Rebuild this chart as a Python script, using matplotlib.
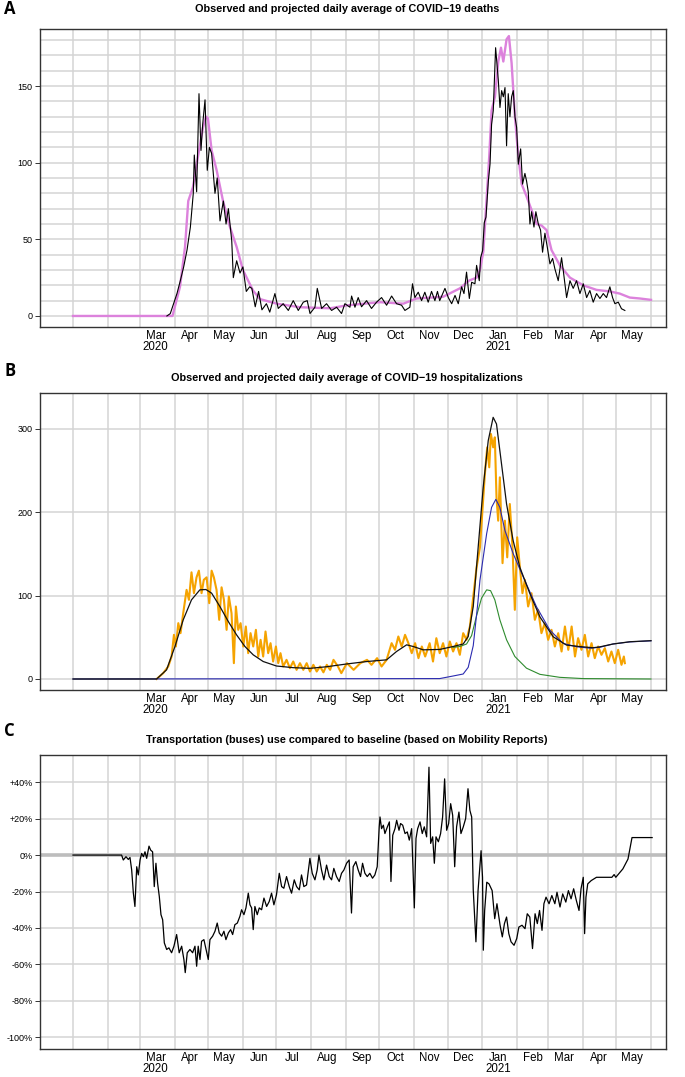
import matplotlib
matplotlib.use("Agg")
import matplotlib.pyplot as plt
import matplotlib.dates as mdates
import numpy as np

# ---- data (days counted from 2020-01-01) ----
deaths_obs_day = [84, 87, 90, 93, 96, 99, 102, 105, 107.6, 108.5, 110.6, 112.7, 114.5, 116, 118.1, 120.1,
                  122, 124, 127, 129, 131.5, 134.5, 136.9, 139, 142, 143.4, 146.4, 149.4, 152, 155, 158, 160,
                  163, 166, 169, 173, 176, 180.6, 183.6, 188, 192.6, 197, 201.5, 206, 209.5, 212, 216.4, 218.5,
                  222.4, 226.8, 231.3, 235.8, 240.2, 243.2, 247.7, 249.2, 252.2, 255.1, 258.1, 262.6, 267, 271.5,
                  276, 280.5, 285, 289.4, 293.9, 296.9, 301.3, 303.7, 305.8, 308.8, 311.8, 314.7, 317.7, 320.7,
                  323.7, 326, 328, 332.7, 335.7, 338.7, 341.7, 344.6, 347.6, 349.7, 352, 354.5, 356.6, 359.5,
                  361, 363.4, 364.6, 366.4, 367.9, 369.4, 371.5, 373, 374.4, 375.9, 378, 380.4, 381.9, 383.4,
                  384.9, 386.4, 387.8, 389.3, 390.8, 392.3, 393.8, 395.3, 396.8, 398.3, 400.4, 402.1, 404.2,
                  405.7, 407.2, 408.7, 410.2, 412.3, 414, 416.2, 418.2, 420, 422.1, 424.2, 426.6, 429, 431, 434,
                  437, 438.5, 441.5, 444.5, 447.4, 450.4, 453.4, 456.4, 459.4, 462.3, 465.3, 468.3, 471.3, 474.3,
                  477.2, 480.2, 482.6, 484.7, 487.7, 490.6, 493.6]
deaths_obs_val = [0, 1.5, 8, 14.6, 23, 32, 43, 58, 80, 105, 81, 145, 108, 125, 141, 95,
                  110, 106, 80, 90, 62, 75, 60, 70, 49, 25, 36, 28, 32, 16, 19, 18,
                  6, 16, 4, 8, 2.5, 14.6, 4.9, 8, 3.6, 10, 3.6, 9, 10, 1.6, 5.7, 18,
                  4.9, 8, 3.6, 5.7, 1.6, 8, 5.7, 13, 5.7, 12, 6, 10, 4.9, 9,
                  12, 7, 13, 8, 7, 3.6, 5.7, 21, 12, 15.5, 10, 15.5, 9, 16,
                  10, 16, 10, 18, 12, 8, 13.4, 8, 19, 14.6, 28.6, 11.4, 22, 21,
                  33, 23, 38, 42.7, 61, 64.5, 88, 99, 125, 134, 175, 154, 136, 147,
                  143, 149, 111, 145, 130, 143, 147, 130, 123, 99, 109, 86, 93,
                  88, 81, 60, 68, 58, 68, 60, 56, 41.6, 54, 45, 34, 37.5, 30.8, 23,
                  38, 29.7, 12, 23, 18, 23, 14.6, 21, 12, 16.6, 9, 14.6, 11.4, 14.6,
                  12, 19, 12, 8, 9, 4.7, 3.6]

deaths_proj_day = [0, 89, 95.7, 100.2, 103.1, 107.3, 111.8, 116.3, 119, 120.7, 124, 128.5, 134.2, 140.4,
                   146.4, 152, 161, 167.3, 182.2, 203, 230, 244.8, 274.5, 295.4, 307.3, 331, 346, 354, 361,
                   364, 367, 370, 372.3, 374.4, 377.4, 380.4, 382.8, 384.9, 387.8, 389.9, 392.3, 395.3, 398.3,
                   401.3, 405.7, 410.2, 414.7, 419.1, 423.6, 428, 435.5, 444.5, 456.4, 468.3, 480.2, 489, 498,
                   507, 517]
deaths_proj_val = [0, 0, 19, 45, 75, 84, 104, 123, 130, 129, 108, 95, 75, 58,
                   45, 30, 16.6, 11, 8, 5.7, 5, 6.9, 9, 8, 11.4, 12.5, 18, 23, 25,
                   30, 42, 77, 104, 134, 143, 166, 175, 166, 180.5, 182.6, 165, 130, 104,
                   86, 78, 69, 60, 59, 56, 43, 33, 25, 20, 17, 16, 14.6, 12,
                   11.4, 10.5]

hosp_obs_day = [74.8, 80.7, 85.2, 88.2, 90.3, 92, 94.2, 96.2, 98.6, 101.6, 103.7, 106, 108.2, 110.5, 112.6,
                115, 117, 119.5, 121.9, 124, 126, 128.4, 130.8, 132.9, 135, 137.4, 139.4, 141.8, 143.9,
                145.7, 147.8, 149.9, 152.3, 154.6, 156.7, 158.8, 161.2, 163.6, 165.7, 167.8, 170.1, 172.2,
                174.6, 176.7, 179, 181.5, 183.6, 185.6, 188, 191, 194, 197, 200, 203, 206, 209, 212, 215,
                218, 221, 224, 227, 230, 233, 237, 240, 245, 251, 257, 263, 267, 272, 276, 280.5, 285, 288,
                291, 294, 297, 300, 303, 306, 309, 312, 315, 319, 322, 325, 328, 331, 334, 337, 340, 343,
                346, 349, 352, 355, 358, 361, 364, 366, 368.4, 370.5, 372.3, 373.8, 375.8, 377.3, 378.8,
                380.3, 381.8, 384.2, 386.3, 388.4, 390.7, 393.1, 395.2, 397.3, 399.7, 402, 404.2, 407.1,
                410.1, 413.1, 416, 419, 422, 425, 428, 431, 434, 437, 440, 443, 446, 449, 451.8, 454.8,
                457.8, 460.8, 463.8, 466.7, 469.7, 472.7, 475.7, 478.7, 481.6, 484.6, 487.6, 490.6, 492.7,
                493.6]
hosp_obs_val = [0, 7, 15, 27, 53, 39, 67, 55, 79, 107, 95, 128, 103, 122, 130,
                103, 119, 122, 91, 130, 122, 107, 71, 110, 95, 59, 99, 79, 19,
                87, 59, 67, 39, 63, 31, 55, 39, 59, 27, 47, 27, 57,
                31, 43, 21, 39, 19, 31, 15, 23, 13, 21, 11, 19, 11, 19, 9, 17,
                9, 15, 8, 17, 11, 23, 15, 7, 19, 11, 19, 23, 17, 25, 15, 23, 43, 35,
                51, 39, 53, 43, 31, 43, 25, 39, 27, 43, 21, 49, 31, 43, 27, 45, 33, 43,
                29, 55, 47, 63, 99, 134, 158, 198, 246, 278, 254, 294, 278, 290, 218,
                190, 242, 139, 190, 146, 210, 158, 83, 170, 134, 103, 119, 87,
                103, 71, 83, 55, 67, 47, 59, 39, 55, 33, 63, 35, 63, 27, 49, 35,
                53, 27, 43, 25, 39, 29, 37, 21, 33, 19, 35, 17, 27,
                19]

hosp_total_day = [0, 74.8, 83.7, 91.2, 98.6, 106, 113.5, 118.9, 124, 131.4, 138.9, 146.3, 153.8, 161.2,
                  170.1, 182, 197, 211.9, 226.8, 244.6, 263, 280.5, 289.4, 298.4, 304.3, 313.3, 328.2, 340,
                  349, 353.5, 358, 362.4, 366.9, 371.4, 375.8, 378.8, 383.3, 387.8, 393.7, 399.7, 408.6,
                  417.6, 429.5, 441.4, 453, 465, 471, 483, 498, 517]
hosp_total_val = [0, 0, 11, 39, 71, 95, 107, 107.4, 103, 87, 69, 53, 39, 29,
                  21, 15.6, 13.6, 12.8, 14.7, 18, 21, 23, 33, 41, 39, 35, 35.5, 39,
                  42, 51, 87, 158, 230, 286, 314, 306, 258, 210, 166, 134, 102.6,
                  74.6, 50.7, 40.7, 39, 37.5, 38.5, 42, 44.7, 46]

hosp_variant_day = [0, 328, 340, 349, 353.5, 358, 362, 364, 370, 374.4, 378.2, 381.8, 386.3, 393.7, 402.7,
                    414.6, 426.5, 438.4, 450.3, 462.3, 471, 483, 498, 517]
hosp_variant_val = [0, 0.5, 3.6, 6, 14, 40, 90, 118.6, 174.5, 206, 215.6, 206, 178.4, 150.5, 122.5,
                    86.6, 58.7, 42.7, 38.7, 37, 38, 42, 44.5, 45.8]

hosp_wild_day = [340, 346, 352, 356.5, 361, 365.4, 370, 373.5, 377.3, 381.8, 387.8, 395.2, 405.6, 417.6,
                 435.4, 456.3, 517]
hosp_wild_val = [38, 39, 42, 52, 76, 97, 107, 106, 95, 71, 47, 27, 13, 5.6, 2, 0.5, 0]

bus_day = [0, 43.5, 45, 47.4, 49.5, 51, 52.5, 54, 55.4, 57, 58.4, 60, 61.4, 63, 64.4, 65.9, 68, 69.5, 71.2,
           72.7, 74.2, 75.7, 77.2, 78.7, 80.2, 81.7, 83.8, 85.8, 88.2, 90.3, 92.7, 95, 97.2, 99.2, 100.4,
           102.2, 104.6, 107, 109.1, 110.6, 112, 113.6, 115, 117.1, 119, 121, 122.5, 124.9, 127, 129, 130.8,
           133, 135, 136.8, 139, 141, 142.8, 144.8, 147, 149.3, 150.8, 152.9, 154.7, 156.8, 158.3, 159.8,
           161.2, 162.7, 164.8, 166.6, 168.7, 170.8, 173.2, 175.5, 177.6, 179.7, 182, 184.5, 186.6, 188.6,
           191, 193.4, 195.5, 197.9, 200, 202.4, 204.4, 206.5, 208.9, 211.9, 214, 216.4, 218.4, 220, 222.3,
           224.4, 226.8, 229.2, 231.3, 233.3, 235.7, 238.1, 240.2, 242.3, 244.7, 247, 249.1, 250.6, 253,
           255.1, 257.2, 259, 261.1, 263.2, 265.5, 267.9, 270, 272.1, 273, 273.9, 274.6, 276, 277.6, 279,
           281.2, 283, 284.4, 286, 288, 289.5, 291.6, 293, 294.9, 297, 299, 300.8, 302.9, 305.3, 306.8,
           308.3, 310.4, 312.4, 314.2, 316.3, 318.4, 319.9, 321.7, 323.2, 324.7, 326.8, 328.8, 330.6,
           332.4, 334.2, 336, 337.8, 339.6, 341.4, 343.1, 345.2, 347, 349.1, 351.2, 353.3, 355, 356.6, 358,
           360.4, 362.3, 365, 366.3, 367, 368.2, 370.1, 372.1, 374.9, 377.2, 379.2, 382, 384, 385.9, 387.8,
           389.8, 391.8, 394.5, 396.9, 398.8, 401.6, 404.3, 406.3, 408.6, 411, 413.3, 415.3, 417.3, 419.5,
           421.2, 423.1, 425.8, 428.3, 431, 432.9, 435.6, 438, 440.8, 443.1, 445.5, 447.8, 450.2, 452.6,
           454.4, 456.4, 457.6, 458.8, 460.4, 463.5, 468.2, 482, 484, 485.5, 491.8, 496.4, 500, 518]
bus_val = [0, 0, -2.7, -0.9, -2.4, -1.3, -8.2, -20.9, -28.2, -6.4, -10.9, -2.7, 0.9, -0.9, 1.8, -1.8, 4.9, 2.7, 1.8,
           -17.3, -4.5, -15.5, -22.7, -32.7, -35.5, -48.2, -51.8, -50.9, -53.6, -50, -43.6, -53.6, -50, -57.3, -64.5,
           -53.6, -51.8, -53.6, -50, -61, -50, -57.3, -47.3, -46.4, -51.8, -57.3, -46.4, -44.5, -41.8, -37.3, -42.7,
           -44.5, -41.8, -46.4, -42.7, -40.9, -43.6, -38.2, -37.3, -33.6, -30, -32.7, -29, -20.9, -27.3, -29,
           -40.9, -28.2, -32.7, -29, -30, -23.6, -28.2, -25.5, -20.9, -27.3, -21.8, -10, -17.3, -18.2,
           -11.8, -17.3, -20.9, -13.6, -17.3, -19.1, -10.9, -17.3, -16.4, -1.8, -10, -13.6, -8.2, 0, -8.2,
           -13.6, -5.5, -11.8, -13.6, -7.3, -11.8, -14.5, -10, -8.2, -4.5, -2.7, -31.8, -6.4, -3.6,
           -8.2, -11.8, -4.5, -10, -11.8, -10, -12.7, -10.9, -6.4, 4.5, 15.5, 20.9, 14.5, 16.4, 11.8,
           15.5, 18.2, -14.5, 10.9, 14.5, 19.1, 13.6, 17.3, 16.4, 11.8, 12.7, 8.2, 14.5, -29, 9.1,
           14.5, 18.2, 11.8, 15.5, 10, 48.2, 6.4, 10, -4.5, 10, 7.3, 11.8, 20.9,
           41.8, 13.6, 17.3, 28.2, 21.8, -6.4, 15.5, 23.6, 11.8, 15.5, 20, 36.4, 24.5, 20.9, -19.1,
           -47.6, -19.5, 2.4, -12.2, -52.2, -30.4, -14.9, -15.8, -19.5, -34.9, -26.7, -38.5, -44.9, -37.6, -34,
           -43.1, -47.6, -49.5, -45.8, -39.5, -38.5, -40.4, -32.2, -34, -51.3, -32.2, -37.6, -30.4, -41.3,
           -26.7, -23.1, -26.7, -22.2, -26.7, -20.4, -28.5, -21.3, -25.8, -19.5, -24, -18.5, -24.9, -30.4,
           -18.5, -12.2, -43.1, -23.1, -15.8, -14, -12.2, -12.2, -10.7, -12.2, -7.6, -2.2, 9.6, 9.6]

month_names = ["Mar\n2020", "Apr", "May", "Jun", "Jul", "Aug", "Sep", "Oct", "Nov", "Dec",
               "Jan\n2021", "Feb", "Mar", "Apr", "May"]

# ---- helpers ----
t0 = mdates.date2num(np.datetime64("2020-01-01"))


def to_x(days):
    return t0 + np.asarray(days, dtype=float)


month_starts = np.arange(np.datetime64("2020-01"), np.datetime64("2021-07"), dtype="datetime64[M]")
grid_x = mdates.date2num(month_starts.astype("datetime64[D]"))
label_x = mdates.date2num(month_starts[2:17].astype("datetime64[D]") + np.timedelta64(14, "D"))

W, H = 685, 1077
fig = plt.figure(figsize=(W / 100, H / 100), dpi=100)
narrow = ["Liberation Sans Narrow", "Liberation Sans", "DejaVu Sans"]
GRID = "#d4d4d4"


def make_axes(top, bottom, ylim, yticks, ylabels, hgrid):
    ax = fig.add_axes([40 / W, 1 - bottom / H, 626 / W, (bottom - top) / H])
    ax.set_xlim(t0 - 29.5, t0 + 530.4)
    ax.set_ylim(*ylim)
    for gx in grid_x:
        ax.axvline(gx, color=GRID, lw=1.1, zorder=0)
    for gy in hgrid:
        ax.axhline(gy, color=GRID, lw=1.1, zorder=0)
    ax.set_xticks(label_x)
    ax.set_xticklabels(month_names, family=narrow, fontsize=8.3, linespacing=0.9)
    ax.tick_params(axis="x", length=0, pad=2)
    ax.set_yticks(yticks)
    ax.set_yticklabels(ylabels, family=narrow, fontsize=6.5)
    ax.tick_params(axis="y", length=3.5, width=0.7, pad=2, color="#333333")
    for s in ax.spines.values():
        s.set_color("#333333")
        s.set_linewidth(1.0)
    return ax


def header(letter, title, y_letter, y_title):
    fig.text(4 / W, 1 - y_letter / H, letter, fontsize=12, fontweight="bold",
             family=["Open Sans", "DejaVu Sans"], ha="left", va="center")
    fig.text(347 / W, 1 - y_title / H, title, fontsize=7.8, fontweight="bold",
             family=narrow, ha="center", va="center")


# ---- A: deaths ----
axA = make_axes(29, 327, (-7.2, 187.2), [0, 50, 100, 150], ["0", "50", "100", "150"],
                np.arange(0, 190, 10))
axA.plot(to_x(deaths_proj_day), deaths_proj_val, color="#dc82dc", lw=1.7, zorder=3)
axA.plot(to_x(deaths_obs_day), deaths_obs_val, color="black", lw=0.8, zorder=4)
header("A", "Observed and projected daily average of COVID\u221219 deaths", 9, 9)

# ---- B: hospitalizations ----
axB = make_axes(393, 690, (-13.2, 343.2), [0, 100, 200, 300], ["0", "100", "200", "300"],
                [0, 100, 200, 300])
axB.plot(to_x(hosp_obs_day), hosp_obs_val, color="#f5a300", lw=1.5, zorder=3)
axB.plot(to_x(hosp_wild_day), hosp_wild_val, color="#2e8b2e", lw=0.8, zorder=4)
axB.plot(to_x(hosp_variant_day), hosp_variant_val, color="#2b2bb0", lw=0.8, zorder=5)
axB.plot(to_x(hosp_total_day), hosp_total_val, color="#111111", lw=0.9, zorder=6)
header("B", "Observed and projected daily average of COVID\u221219 hospitalizations", 371, 378)

# ---- C: bus mobility ----
c_ticks = [40, 20, 0, -20, -40, -60, -80, -100]
c_labels = ["+40%", "+20%", "0%", "-20%", "-40%", "-60%", "-80%", "-100%"]
axC = make_axes(755, 1049, (-106.4, 54.9), c_ticks, c_labels, [t for t in c_ticks if t != 0])
axC.axhline(0, color="#bdbdbd", lw=2.6, zorder=1)
axC.plot(to_x(bus_day), bus_val, color="black", lw=0.9, zorder=4)
header("C", "Transportation (buses) use compared to baseline (based on Mobility Reports)", 731, 740)

fig.savefig("out.png", dpi=100)
